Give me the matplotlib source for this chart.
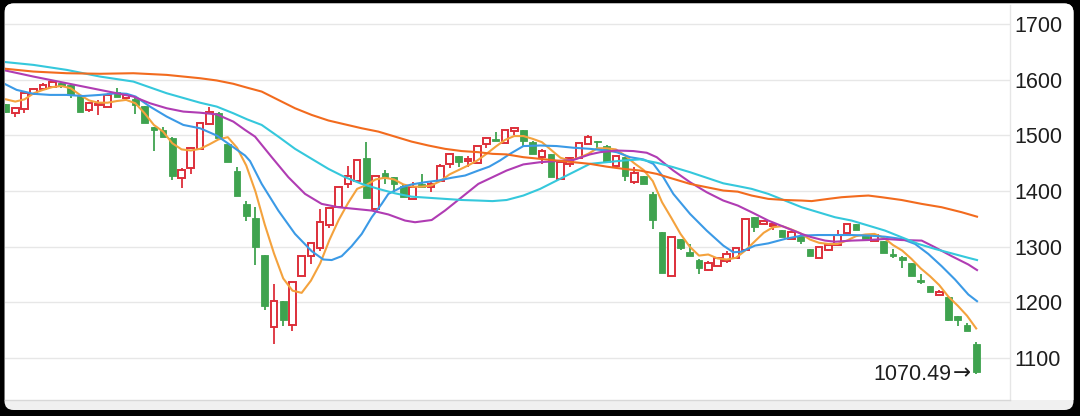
import matplotlib
matplotlib.use('Agg')
import matplotlib.pyplot as plt
from matplotlib.patches import FancyBboxPatch, Rectangle
import numpy as np

# ---------------- data ----------------
opens = [1556, 1541, 1547, 1574, 1583, 1587, 1594, 1591, 1571, 1545,
         1554, 1551, 1579, 1567, 1565, 1553, 1516, 1510, 1496, 1424,
         1442, 1476, 1520, 1541, 1485, 1437, 1377, 1352, 1285, 1155,
         1203, 1160, 1247, 1283, 1297, 1339, 1371, 1413, 1419, 1460,
         1368, 1432, 1426, 1409, 1386, 1412, 1407, 1419, 1449, 1464,
         1455, 1450, 1484, 1493, 1487, 1508, 1510, 1488, 1461, 1466,
         1422, 1448, 1460, 1485, 1491, 1481, 1446, 1461, 1416, 1428,
         1395, 1326, 1247, 1313, 1291, 1276, 1259, 1265, 1274, 1280,
         1294, 1353, 1340, 1338, 1330, 1314, 1320, 1295, 1279, 1294,
         1303, 1324, 1341, 1321, 1311, 1311, 1287, 1282, 1271, 1241,
         1229, 1213, 1209, 1175, 1160, 1125]
closes = [1543, 1549, 1576, 1583, 1591, 1596, 1589, 1573, 1543, 1558,
          1556, 1573, 1570, 1573, 1555, 1523, 1510, 1497, 1428, 1438,
          1478, 1523, 1543, 1496, 1453, 1392, 1356, 1300, 1194, 1202,
          1169, 1237, 1283, 1306, 1344, 1369, 1408, 1428, 1456, 1388,
          1428, 1425, 1413, 1390, 1408, 1408, 1413, 1446, 1467, 1452,
          1458, 1481, 1496, 1490, 1510, 1513, 1491, 1467, 1472, 1426,
          1452, 1460, 1487, 1497, 1488, 1452, 1464, 1428, 1432, 1413,
          1348, 1253, 1318, 1298, 1283, 1261, 1270, 1279, 1286, 1298,
          1350, 1335, 1346, 1340, 1318, 1327, 1311, 1283, 1300, 1303,
          1321, 1341, 1330, 1314, 1321, 1289, 1283, 1276, 1247, 1237,
          1219, 1219, 1169, 1169, 1148, 1074]
highs = [1557, 1552, 1579, 1585, 1594, 1599, 1595, 1593, 1573, 1561,
         1564, 1576, 1585, 1576, 1567, 1553, 1516, 1516, 1497, 1442,
         1480, 1524, 1552, 1543, 1486, 1444, 1383, 1371, 1285, 1233,
         1203, 1237, 1283, 1306, 1368, 1369, 1408, 1446, 1456, 1488,
         1428, 1438, 1426, 1413, 1416, 1431, 1416, 1448, 1469, 1464,
         1464, 1481, 1497, 1506, 1510, 1516, 1510, 1490, 1476, 1466,
         1455, 1462, 1487, 1500, 1491, 1483, 1464, 1461, 1444, 1428,
         1398, 1326, 1318, 1313, 1305, 1278, 1274, 1279, 1292, 1298,
         1350, 1353, 1346, 1342, 1330, 1327, 1323, 1295, 1300, 1306,
         1330, 1341, 1341, 1321, 1321, 1311, 1295, 1283, 1271, 1251,
         1229, 1223, 1209, 1175, 1163, 1128]
lows = [1541, 1534, 1541, 1572, 1582, 1585, 1585, 1567, 1543, 1543,
        1537, 1551, 1570, 1563, 1539, 1523, 1473, 1497, 1420, 1406,
        1430, 1475, 1520, 1496, 1453, 1392, 1347, 1267, 1187, 1125,
        1157, 1149, 1247, 1269, 1292, 1334, 1371, 1406, 1419, 1388,
        1368, 1412, 1398, 1390, 1386, 1406, 1398, 1416, 1442, 1444,
        1444, 1450, 1478, 1490, 1487, 1501, 1482, 1467, 1449, 1426,
        1422, 1443, 1460, 1485, 1478, 1452, 1446, 1418, 1413, 1413,
        1332, 1253, 1247, 1294, 1283, 1251, 1257, 1265, 1271, 1280,
        1294, 1327, 1340, 1330, 1318, 1314, 1305, 1283, 1279, 1293,
        1301, 1324, 1330, 1314, 1311, 1289, 1279, 1261, 1247, 1233,
        1219, 1213, 1166, 1157, 1148, 1070.49]

ma5 = [1565, 1561, 1565, 1576, 1582, 1587, 1589, 1585, 1573, 1563,
       1559, 1559, 1562, 1564, 1558, 1540, 1519, 1507, 1486, 1475,
       1473, 1476, 1484, 1493, 1497, 1478, 1446, 1399, 1340, 1288,
       1243, 1221, 1217, 1239, 1270, 1312, 1348, 1378, 1404, 1411,
       1421, 1424, 1421, 1412, 1408, 1408, 1410, 1418, 1430, 1438,
       1446, 1455, 1467, 1480, 1492, 1499, 1499, 1494, 1488, 1474,
       1460, 1455, 1460, 1467, 1477, 1477, 1475, 1464, 1450, 1438,
       1418, 1380, 1352, 1323, 1300, 1284, 1286, 1279, 1277, 1280,
       1293, 1309, 1325, 1335, 1337, 1331, 1324, 1313, 1307, 1305,
       1305, 1311, 1319, 1322, 1323, 1316, 1303, 1293, 1278, 1261,
       1247, 1231, 1210, 1194, 1176, 1153]

ma10_x = [-0.65, 1.15, 2.96, 4.76, 6.57, 8.37, 10.17, 11.98, 13.06, 14.03,
          15.58, 17.39, 19.19, 21.0, 22.8, 24.6, 25.87, 26.41, 27.67, 29.47,
          31.28, 33.08, 34.34, 35.25, 36.33, 37.41, 38.5, 39.58, 40.66, 41.38,
          42.82, 43.9, 45.35, 46.79, 48.23, 49.68, 51.12, 52.3, 53.46, 54.55,
          55.99, 57.81, 59.6, 61.4, 63.2, 65.0, 66.09, 67.53, 68.98, 70.06,
          71.14, 72.22, 74.03, 75.83, 77.63, 78.71, 79.6, 81.06, 82.5, 84.31,
          86.11, 87.91, 89.72, 91.52, 93.33, 95.13, 96.93, 98.38, 99.82, 101.26,
          102.71, 104.15, 105.09]
ma10 = [1597, 1582, 1575, 1573, 1573, 1571, 1573, 1576, 1575, 1570,
        1552, 1534, 1519, 1513, 1500, 1479, 1464, 1454, 1413, 1365,
        1323, 1292, 1277, 1276, 1283, 1301, 1323, 1353, 1377, 1395,
        1407, 1412, 1416, 1419, 1424, 1428, 1437, 1444, 1455, 1467,
        1481, 1482, 1481, 1478, 1476, 1473, 1470, 1461, 1457, 1449,
        1425, 1395, 1359, 1329, 1302, 1290, 1291, 1302, 1306, 1314,
        1320, 1321, 1321, 1321, 1320, 1318, 1314, 1305, 1287, 1265,
        1241, 1214, 1202]

ma20_x = [-0.65, 2.96, 6.57, 10.17, 11.98, 13.78, 15.58, 17.39, 19.19, 21.0,
          22.8, 24.6, 25.87, 26.95, 28.76, 30.56, 32.36, 34.16, 35.97, 37.77,
          39.58, 41.38, 43.19, 44.27, 46.07, 47.51, 49.32, 51.12, 52.65, 54.18,
          55.99, 57.81, 59.6, 61.4, 63.2, 64.29, 66.09, 67.9, 69.34, 70.42,
          72.22, 74.03, 75.83, 77.63, 79.2, 80.7, 82.5, 84.31, 86.11, 87.19,
          88.64, 89.72, 91.52, 93.33, 95.13, 96.93, 99.1, 100.54, 102.35, 104.15,
          105.09]
ma20 = [1619, 1606, 1594, 1582, 1576, 1570, 1558, 1549, 1543, 1541,
        1538, 1525, 1510, 1498, 1461, 1425, 1395, 1377, 1371, 1368,
        1365, 1358, 1347, 1344, 1348, 1365, 1389, 1413, 1425, 1437,
        1448, 1452, 1454, 1456, 1466, 1470, 1473, 1472, 1469, 1461,
        1437, 1416, 1398, 1383, 1374, 1362, 1347, 1335, 1323, 1317,
        1311, 1309, 1311, 1312, 1314, 1312, 1311, 1299, 1283, 1268,
        1258]

ma30_x = [-0.65, 2.96, 6.57, 10.17, 13.78, 17.39, 21.0, 22.8, 24.6, 26.1,
          27.67, 29.47, 31.28, 33.08, 34.89, 36.69, 38.5, 40.3, 42.1, 43.9,
          45.71, 47.51, 49.32, 51.12, 52.65, 54.18, 55.99, 57.81, 59.6, 61.4,
          63.2, 65.0, 66.81, 68.61, 70.42, 72.22, 74.03, 75.83, 77.63, 79.2,
          80.7, 82.5, 84.31, 86.11, 87.91, 89.72, 91.52, 93.33, 95.13, 96.93,
          98.74, 100.54, 102.35, 104.15, 105.09]
ma30 = [1633, 1627, 1618, 1606, 1597, 1576, 1559, 1552, 1540, 1529,
        1519, 1498, 1476, 1458, 1440, 1425, 1413, 1404, 1396, 1390,
        1388, 1386, 1384, 1383, 1382, 1384, 1392, 1404, 1419, 1434,
        1449, 1452, 1455, 1457, 1451, 1443, 1434, 1424, 1414, 1409,
        1404, 1395, 1383, 1371, 1362, 1353, 1347, 1338, 1329, 1317,
        1305, 1296, 1288, 1280, 1276]

ma60_x = [-0.65, 2.96, 6.57, 10.17, 13.78, 17.39, 21.0, 22.8, 24.6, 26.1,
          27.67, 29.47, 31.28, 33.08, 34.89, 36.69, 38.5, 40.3, 42.1, 43.9,
          45.71, 47.51, 49.32, 51.12, 52.65, 54.18, 55.99, 57.81, 59.6, 61.4,
          63.2, 65.0, 66.81, 68.61, 70.42, 72.22, 74.03, 75.83, 77.63, 79.2,
          80.7, 82.5, 84.31, 86.11, 87.19, 88.99, 90.44, 92.24, 93.33, 94.77,
          96.93, 99.1, 101.26, 103.43, 105.09]
ma60 = [1621, 1615, 1612, 1611, 1612, 1609, 1603, 1599, 1593, 1586,
        1579, 1564, 1549, 1537, 1527, 1520, 1513, 1507, 1498, 1489,
        1482, 1476, 1472, 1470, 1467, 1466, 1461, 1458, 1455, 1452,
        1449, 1444, 1440, 1437, 1431, 1422, 1413, 1407, 1401, 1399,
        1392, 1386, 1384, 1383, 1382, 1386, 1389, 1391, 1392, 1389,
        1384, 1377, 1371, 1362, 1354]

yticks = [1100, 1200, 1300, 1400, 1500, 1600, 1700]
last_label = '1070.49'

# ---------------- styling ----------------
plt.rcParams['font.family'] = ['Liberation Sans', 'DejaVu Sans']
UP = '#dd2f3a'
DOWN = '#3fa34f'
C_MA5 = '#f4a23d'
C_MA10 = '#3b9ae6'
C_MA20 = '#b03cb3'
C_MA30 = '#35c8dc'
C_MA60 = '#f26b1e'

W, H = 1080, 416
fig = plt.figure(figsize=(W / 100, H / 100), dpi=100, facecolor='black')

# card background (pixel coordinates)
r = 9
card = FancyBboxPatch((4.5 + r, 6 + r), 1073.5 - 4.5 - 2 * r, 412.5 - 6 - 2 * r,
                      boxstyle='round,pad=%d' % r, transform=None,
                      facecolor='#f0f0f0', edgecolor='none', zorder=-3)
fig.add_artist(card)
white = Rectangle((4.5, 16), 1069, 400, transform=None, facecolor='white',
                  edgecolor='none', zorder=-2)
white.set_clip_path(card)
fig.add_artist(white)

ax = fig.add_axes([5 / W, (H - 400) / H, (1010 - 5) / W, (400 - 5) / H])
ax.set_zorder(1)
ax.set_facecolor('none')
ax.set_xlim(-0.11, 108.66)
ax.set_ylim(1024.3, 1734.7)

# grid & axes
ax.set_yticks(yticks)
ax.grid(axis='y', color='#e7e7e7', lw=1.0, zorder=0)
ax.set_axisbelow(True)
ax.set_xticks([])
ax.yaxis.tick_right()
ax.tick_params(axis='y', length=0, pad=3, labelsize=15.5, labelcolor='#1e1e1e')
for s in ['top', 'left']:
    ax.spines[s].set_visible(False)
ax.spines['right'].set_color('#e6e6e6')
ax.spines['right'].set_linewidth(1.0)
ax.spines['bottom'].set_color('#d8d8d8')
ax.spines['bottom'].set_linewidth(1.0)

# candlesticks
bw = 0.72
for i, (o, c, h, l) in enumerate(zip(opens, closes, highs, lows)):
    top, bot = max(o, c), min(o, c)
    if c >= o:
        col = UP
        ax.vlines(i, top, h, color=col, lw=1.3, zorder=2)
        ax.vlines(i, l, bot, color=col, lw=1.3, zorder=2)
        ax.add_patch(Rectangle((i - bw / 2, bot), bw, max(top - bot, 1.5),
                               facecolor='white', edgecolor=col, lw=1.4, zorder=2))
    else:
        col = DOWN
        ax.vlines(i, l, h, color=col, lw=1.3, zorder=2)
        ax.add_patch(Rectangle((i - bw / 2, bot), bw, max(top - bot, 1.5),
                               facecolor=col, edgecolor=col, lw=0.6, zorder=2))

# moving averages
ax.plot(np.arange(len(ma5)), ma5, color=C_MA5, lw=1.5, zorder=3)
ax.plot(ma10_x, ma10, color=C_MA10, lw=1.5, zorder=3)
ax.plot(ma20_x, ma20, color=C_MA20, lw=1.5, zorder=3)
ax.plot(ma30_x, ma30, color=C_MA30, lw=1.5, zorder=3)
ax.plot(ma60_x, ma60, color=C_MA60, lw=1.5, zorder=3)

# last price label: number + long arrow pointing at the last low
last_i = len(closes) - 1
ax.annotate('\u2192', xy=(last_i, lows[last_i]), xytext=(-4.0, 1.0),
            textcoords='offset points', ha='right', va='center',
            fontsize=15.5, color='#1e1e1e', zorder=4, family=['DejaVu Sans'])
ax.annotate(last_label, xy=(last_i, lows[last_i]), xytext=(-18.0, 0),
            textcoords='offset points', ha='right', va='center',
            fontsize=15.5, color='#1e1e1e', zorder=4)

fig.savefig('out.png', dpi=100, facecolor='black')
